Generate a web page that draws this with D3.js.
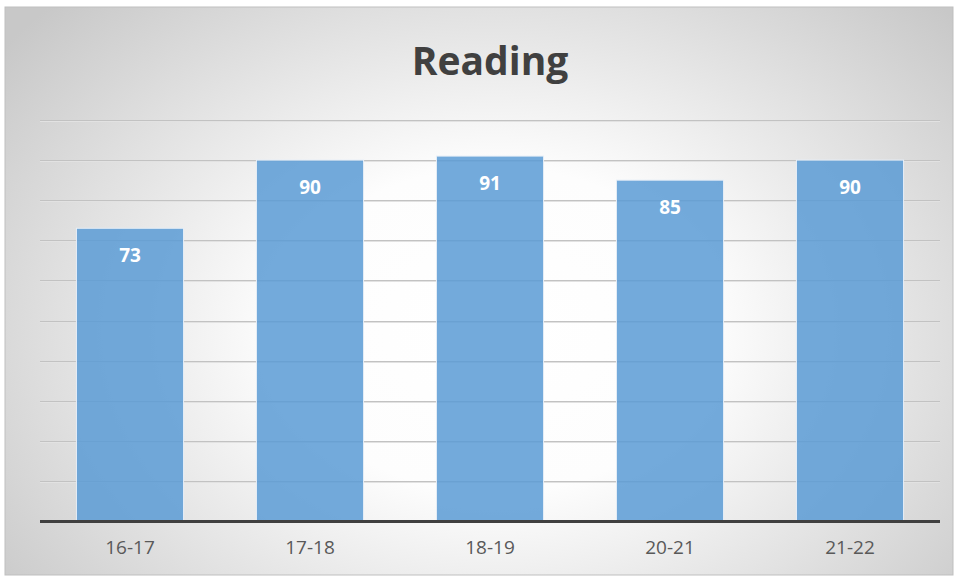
<!DOCTYPE html>
<html>
<head>
<meta charset="utf-8">
<script src="https://cdn.jsdelivr.net/npm/d3@7"></script>
<style>
  html, body { margin: 0; padding: 0; background: #ffffff; }
  svg { display: block; }
</style>
</head>
<body>
<svg id="chart" width="958" height="578"></svg>
<script>
// Reading scores by school year
const categories = ["16-17", "17-18", "18-19", "20-21", "21-22"];
const values = [73, 90, 91, 85, 90];
const yTicks = [0, 10, 20, 30, 40, 50, 60, 70, 80, 90, 100];
const chartTitle = "Reading";

const width = 958, height = 578;
const frame = { x: 5, y: 7, w: 948, h: 568 };
const plot = { left: 40, right: 940, top: 120, bottom: 521 };

const svg = d3.select("#chart");
const defs = svg.append("defs");

// Soft radial backdrop: light centre fading to grey at the edges
const grad = defs.append("radialGradient")
  .attr("id", "bg")
  .attr("gradientUnits", "userSpaceOnUse")
  .attr("cx", 495).attr("cy", 330)
  .attr("r", 620)
  .attr("gradientTransform", "translate(495,330) scale(1,0.75) translate(-495,-330)");
grad.append("stop").attr("offset", "0%").attr("stop-color", "#ffffff");
grad.append("stop").attr("offset", "35%").attr("stop-color", "#fdfdfd");
grad.append("stop").attr("offset", "100%").attr("stop-color", "#c8c8c8");

svg.append("rect")
  .attr("x", frame.x).attr("y", frame.y)
  .attr("width", frame.w).attr("height", frame.h)
  .attr("fill", "url(#bg)")
  .attr("stroke", "#bfbfbf").attr("stroke-width", 1);

const x = d3.scaleBand()
  .domain(categories)
  .range([plot.left, plot.right])
  .paddingInner(0.405)
  .paddingOuter(0.2025);

const y = d3.scaleLinear()
  .domain([0, 100])
  .range([plot.bottom, plot.top]);

// Horizontal gridlines
const grid = svg.append("g").attr("class", "grid");
grid.selectAll("line.shadow")
  .data(yTicks.filter(d => d > 0))
  .join("line")
  .attr("class", "shadow")
  .attr("x1", plot.left).attr("x2", plot.right)
  .attr("y1", d => Math.round(y(d)) + 1.5).attr("y2", d => Math.round(y(d)) + 1.5)
  .attr("stroke", "#e2e2e2").attr("stroke-width", 1);
grid.selectAll("line.main")
  .data(yTicks.filter(d => d > 0))
  .join("line")
  .attr("class", "main")
  .attr("x1", plot.left).attr("x2", plot.right)
  .attr("y1", d => Math.round(y(d)) + 0.5).attr("y2", d => Math.round(y(d)) + 0.5)
  .attr("stroke", "#c2c2c2").attr("stroke-width", 1);

// Bars
svg.append("g").selectAll("rect")
  .data(values)
  .join("rect")
  .attr("x", (d, i) => x(categories[i]))
  .attr("y", d => y(d))
  .attr("width", x.bandwidth())
  .attr("height", d => y(0) - y(d))
  .attr("fill", "#5b9bd5")
  .attr("fill-opacity", 0.85)
  .attr("stroke", "#e6eef7")
  .attr("stroke-width", 1);

// Value labels inside bar tops
svg.append("g").selectAll("text")
  .data(values)
  .join("text")
  .attr("x", (d, i) => x(categories[i]) + x.bandwidth() / 2)
  .attr("y", d => y(d) + 34)
  .attr("text-anchor", "middle")
  .attr("font-family", "'Open Sans', sans-serif")
  .attr("font-weight", 700)
  .attr("font-size", 19)
  .attr("fill", "#ffffff")
  .text(d => d);

// Category axis
const xAxis = svg.append("g")
  .attr("transform", `translate(0,${plot.bottom})`)
  .call(d3.axisBottom(x).tickSize(0).tickPadding(20));
xAxis.select(".domain").remove();
xAxis.selectAll("text")
  .attr("font-family", "'Open Sans', sans-serif")
  .attr("font-size", 19)
  .attr("fill", "#595959")
  .attr("dy", "0.71em");

svg.append("line")
  .attr("x1", plot.left).attr("x2", plot.right)
  .attr("y1", plot.bottom + 0.5).attr("y2", plot.bottom + 0.5)
  .attr("stroke", "#404040").attr("stroke-width", 3);

// Title
svg.append("text")
  .attr("x", 490).attr("y", 75)
  .attr("text-anchor", "middle")
  .attr("font-family", "'Open Sans', sans-serif")
  .attr("font-weight", 700)
  .attr("font-size", 39)
  .attr("fill", "#404040")
  .text(chartTitle);
</script>
</body>
</html>
